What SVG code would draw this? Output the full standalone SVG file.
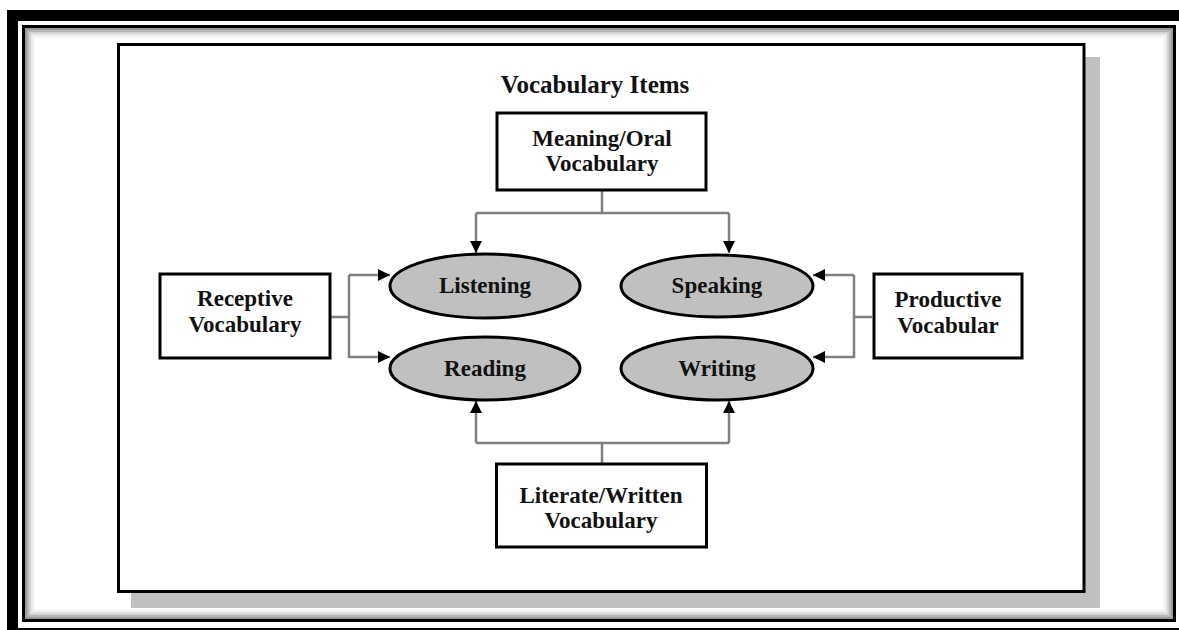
<svg xmlns="http://www.w3.org/2000/svg" width="1179" height="630" viewBox="0 0 1179 630">
<style>
.t{font-family:"Liberation Serif","Times New Roman",serif;font-weight:bold;font-size:23px;fill:#111;text-anchor:middle}
.box{fill:#fff;stroke:#000;stroke-width:3}
.ell{fill:#c0c0c0;stroke:#000;stroke-width:3}
.con{fill:none;stroke:#808080;stroke-width:2.5}
</style>
<defs>
<marker id="ah" markerUnits="userSpaceOnUse" markerWidth="13" markerHeight="13" refX="12" refY="6.5" orient="auto">
<path d="M0,0.5 L12,6.5 L0,12.5 z" fill="#000"/>
</marker>
</defs>
<rect x="0" y="0" width="1179" height="630" fill="#fff"/>
<g id="frame">
<rect x="7" y="10" width="1200" height="640" fill="#000"/>
<rect x="18" y="21" width="1200" height="607" fill="#fff"/>
<rect x="23.5" y="26.5" width="1151" height="594" fill="none" stroke="#000" stroke-width="3"/>
<rect x="26" y="29" width="1146" height="589" fill="none" stroke="#9a9a9a" stroke-width="2"/>
<rect x="28" y="31" width="1142" height="585" fill="none" stroke="#b8b8b8" stroke-width="2"/>
<rect x="30" y="33" width="1138" height="581" fill="none" stroke="#d4d4d4" stroke-width="2"/>
<rect x="32" y="35" width="1134" height="577" fill="none" stroke="#eaeaea" stroke-width="2"/>
<rect x="34" y="37" width="1130" height="573" fill="none" stroke="#f6f6f6" stroke-width="2"/>
</g>
<g id="panel">
<rect x="131" y="57" width="969" height="551" fill="#c0c0c0"/>
<rect x="118.5" y="44.5" width="965.5" height="547" class="box"/>
</g>
<text id="title" class="t" x="595" y="93" style="font-size:25px">Vocabulary Items</text>
<g id="connectors">
<path class="con" d="M602 191V213M476 213H729"/>
<path class="con" d="M476 213V253" marker-end="url(#ah)"/>
<path class="con" d="M729 213V253" marker-end="url(#ah)"/>
<path class="con" d="M602 463V443M476 443H729"/>
<path class="con" d="M476 443V401" marker-end="url(#ah)"/>
<path class="con" d="M729 443V401" marker-end="url(#ah)"/>
<path class="con" d="M331 317H349M349 275V358"/>
<path class="con" d="M349 275H390" marker-end="url(#ah)"/>
<path class="con" d="M349 357H390" marker-end="url(#ah)"/>
<path class="con" d="M872 317H854M854 275V358"/>
<path class="con" d="M854 275H813" marker-end="url(#ah)"/>
<path class="con" d="M854 357H813" marker-end="url(#ah)"/>
</g>
<g id="meaning">
<rect x="497" y="113" width="209" height="77" class="box"/>
<text class="t" x="602" y="146">Meaning/Oral</text>
<text class="t" x="602" y="171">Vocabulary</text>
</g>
<g id="receptive">
<rect x="160" y="274" width="170" height="84" class="box"/>
<text class="t" x="245" y="306">Receptive</text>
<text class="t" x="245" y="332">Vocabulary</text>
</g>
<g id="productive">
<rect x="874" y="274" width="148" height="84" class="box"/>
<text class="t" x="948" y="307">Productive</text>
<text class="t" x="948" y="333">Vocabular</text>
</g>
<g id="literate">
<rect x="496.5" y="464" width="210" height="83" class="box"/>
<text class="t" x="601" y="503">Literate/Written</text>
<text class="t" x="601" y="528">Vocabulary</text>
</g>
<g id="listening">
<ellipse cx="485" cy="286" rx="95" ry="32" class="ell"/>
<text class="t" x="485" y="293">Listening</text>
</g>
<g id="speaking">
<ellipse cx="717" cy="286" rx="96" ry="31" class="ell"/>
<text class="t" x="717" y="293">Speaking</text>
</g>
<g id="reading">
<ellipse cx="485" cy="368.5" rx="95" ry="31.5" class="ell"/>
<text class="t" x="485" y="376">Reading</text>
</g>
<g id="writing">
<ellipse cx="717" cy="368.5" rx="96" ry="31.5" class="ell"/>
<text class="t" x="717" y="376">Writing</text>
</g>
</svg>
